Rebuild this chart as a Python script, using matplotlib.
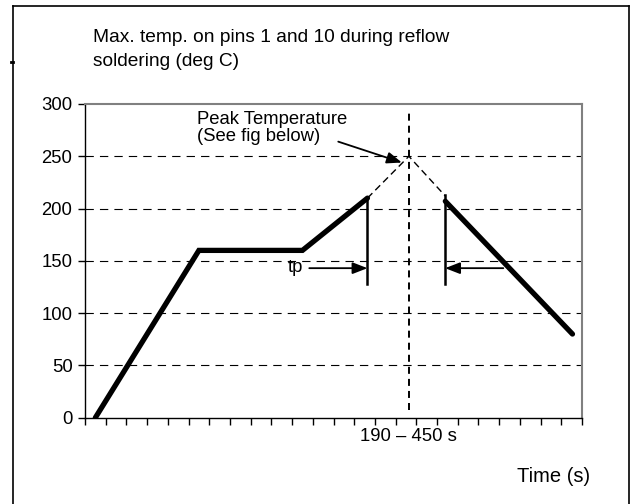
import matplotlib
matplotlib.use("Agg")
import matplotlib.pyplot as plt
from matplotlib.lines import Line2D

plt.rcParams['font.family'] = ['Liberation Sans', 'DejaVu Sans']

# Data
heat_x = [0.5, 5.5, 10.5, 13.64]
heat_y = [0, 160, 160, 210]
peak_x = 15.64
peak_y = 250
cool_x = [17.4, 23.54]
cool_y = [207, 80]
dash_x = [13.64, peak_x, 17.4]
dash_y = [210, peak_y, 212]
tp_left, tp_right = 13.64, 17.39
tp_bottom, tp_top_left, tp_top_right = 128, 210, 213
tp_arrow_y = 143
y_ticks = [0, 50, 100, 150, 200, 250, 300]

W, H = 631, 504
fig = plt.figure(figsize=(W / 100, H / 100), dpi=100)
ax = fig.add_axes([85 / W, (H - 417.7) / H, 497 / W, 313.7 / H])
ax.set_xlim(0, 24)
ax.set_ylim(0, 300)

# grid
for yv in y_ticks[1:-1]:
    ax.plot([0, 24], [yv, yv], color='black', lw=0.8, ls=(0, (7.5, 5.5)), zorder=1)

# vertical dashed peak line
ax.plot([peak_x, peak_x], [7, 294], color='black', lw=1.4, ls=(0, (3.6, 2.6)), zorder=2, clip_on=False)

# profile
ax.plot(heat_x, heat_y, color='black', lw=3.8, solid_capstyle='round', solid_joinstyle='miter', zorder=4)
ax.plot(cool_x, cool_y, color='black', lw=3.8, solid_capstyle='round', zorder=4)
ax.plot(dash_x, dash_y, color='black', lw=1.0, ls=(0, (5, 3)), zorder=3)

# tp markers
ax.plot([tp_left, tp_left], [tp_bottom, tp_top_left], color='black', lw=1.8, zorder=4)
ax.plot([tp_right, tp_right], [tp_bottom, tp_top_right], color='black', lw=1.8, zorder=4)
ap = dict(arrowstyle='-|>,head_length=0.9,head_width=0.35', color='black', lw=1.3,
          shrinkA=0, shrinkB=0)
ax.annotate('', xy=(tp_left, tp_arrow_y), xytext=(10.83, tp_arrow_y), arrowprops=ap, zorder=5)
ax.text(10.15, tp_arrow_y + 1, 'tp', fontsize=13.3, ha='center', va='center')
ax.annotate('', xy=(tp_right, tp_arrow_y), xytext=(20.2, tp_arrow_y), arrowprops=ap, zorder=5)

# peak annotation
ax.annotate('', xy=(15.3, 244), xytext=(12.23, 264), arrowprops=ap, zorder=5)
ax.text(5.4, 285, 'Peak Temperature', fontsize=13.3, ha='left', va='center')
ax.text(5.4, 269, '(See fig below)', fontsize=13.3, ha='left', va='center')

# axes styling
ax.set_yticks(y_ticks)
ax.set_yticklabels([str(v) for v in y_ticks], fontsize=13.3)
ax.set_xticks(range(0, 25))
ax.set_xticklabels([])
ax.tick_params(axis='x', direction='out', length=5, width=1, color='black')
ax.tick_params(axis='y', direction='out', length=5, width=1, color='black', pad=4)
for s in ['top', 'right']:
    ax.spines[s].set_color('#808080')
    ax.spines[s].set_linewidth(1.5)
for s in ['left', 'bottom']:
    ax.spines[s].set_color('black')
    ax.spines[s].set_linewidth(1.0)

ax.text(peak_x, -18, '190 – 450 s', fontsize=13.3, ha='center', va='center')
fig.text(554 / W, 1 - 477 / H, 'Time (s)', fontsize=14.5, ha='center', va='center')
fig.text(93 / W, 1 - 37 / H, 'Max. temp. on pins 1 and 10 during reflow', fontsize=13.8, ha='left', va='center')
fig.text(93 / W, 1 - 62 / H, 'soldering (deg C)', fontsize=13.8, ha='left', va='center')

# outer frame
fig.add_artist(Line2D([12.5 / W, 12.5 / W], [0, 1 - 5.5 / H], color='black', lw=1.2))
fig.add_artist(Line2D([12.5 / W, 629 / W], [1 - 5.5 / H, 1 - 5.5 / H], color='black', lw=1.2))
fig.add_artist(Line2D([629 / W, 629 / W], [0, 1 - 5.5 / H], color='black', lw=1.2))
fig.add_artist(Line2D([10.5 / W, 12.5 / W], [1 - 62 / H, 1 - 62 / H], color='black', lw=2))

fig.savefig('out.png', dpi=100)
